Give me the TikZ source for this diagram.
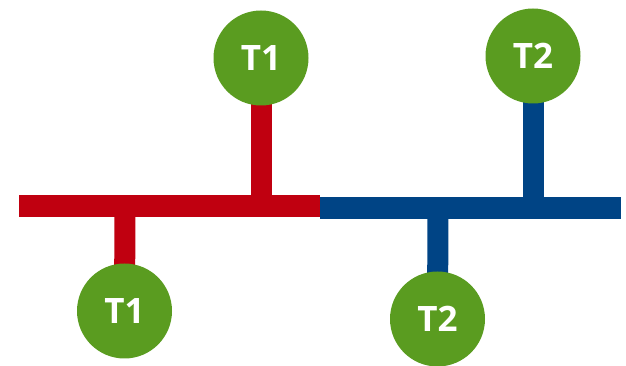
\documentclass[tikz,border=0pt]{standalone}
\usepackage{fontspec}
\setmainfont{Open Sans}
\definecolor{tgreen}{HTML}{5A9C20}
\definecolor{tred}{HTML}{C00010}
\definecolor{tblue}{HTML}{004485}
\pgfdeclarelayer{bg}
\pgfsetlayers{bg,main}
\begin{document}
\begin{tikzpicture}[x=1pt,y=1pt,
  term/.style={circle,fill=tgreen,minimum size=95pt,inner sep=0pt,text=white,font=\bfseries\fontsize{35}{40}\selectfont},
  redline/.style={draw=tred,line width=22pt},
  blueline/.style={draw=tblue,line width=22pt},
  redstem/.style={draw=tred,line width=21pt},
  bluestem/.style={draw=tblue,line width=21pt}]
\useasboundingbox (0,0) rectangle (626,366);
% bus coordinates
\coordinate (rl) at (19,160);
\coordinate (mid) at (320,160);
\coordinate (mid2) at (320,158);
\coordinate (br) at (621,158);
\coordinate (j1) at (261,160);
\coordinate (j2) at (125,160);
\coordinate (j3) at (533,158);
\coordinate (j4) at (438,158);
% terminals
\node[term] (t1a) at (261,308) {T1};
\node[term] (t1b) at (124.5,55) {T1};
\node[term] (t2a) at (533,310) {T2};
\node[term] (t2b) at (437.5,47) {T2};
\begin{pgfonlayer}{bg}
\path[redstem] (t1a.center) -- (j1);
\path[redstem] (t1b.center) -- (j2);
\path[bluestem] (t2a.center) -- (j3);
\path[bluestem] (t2b.center) -- (j4);
\path[redline] (rl) -- (mid);
\path[blueline] (mid2) -- (br);
\end{pgfonlayer}
\end{tikzpicture}
\end{document}
